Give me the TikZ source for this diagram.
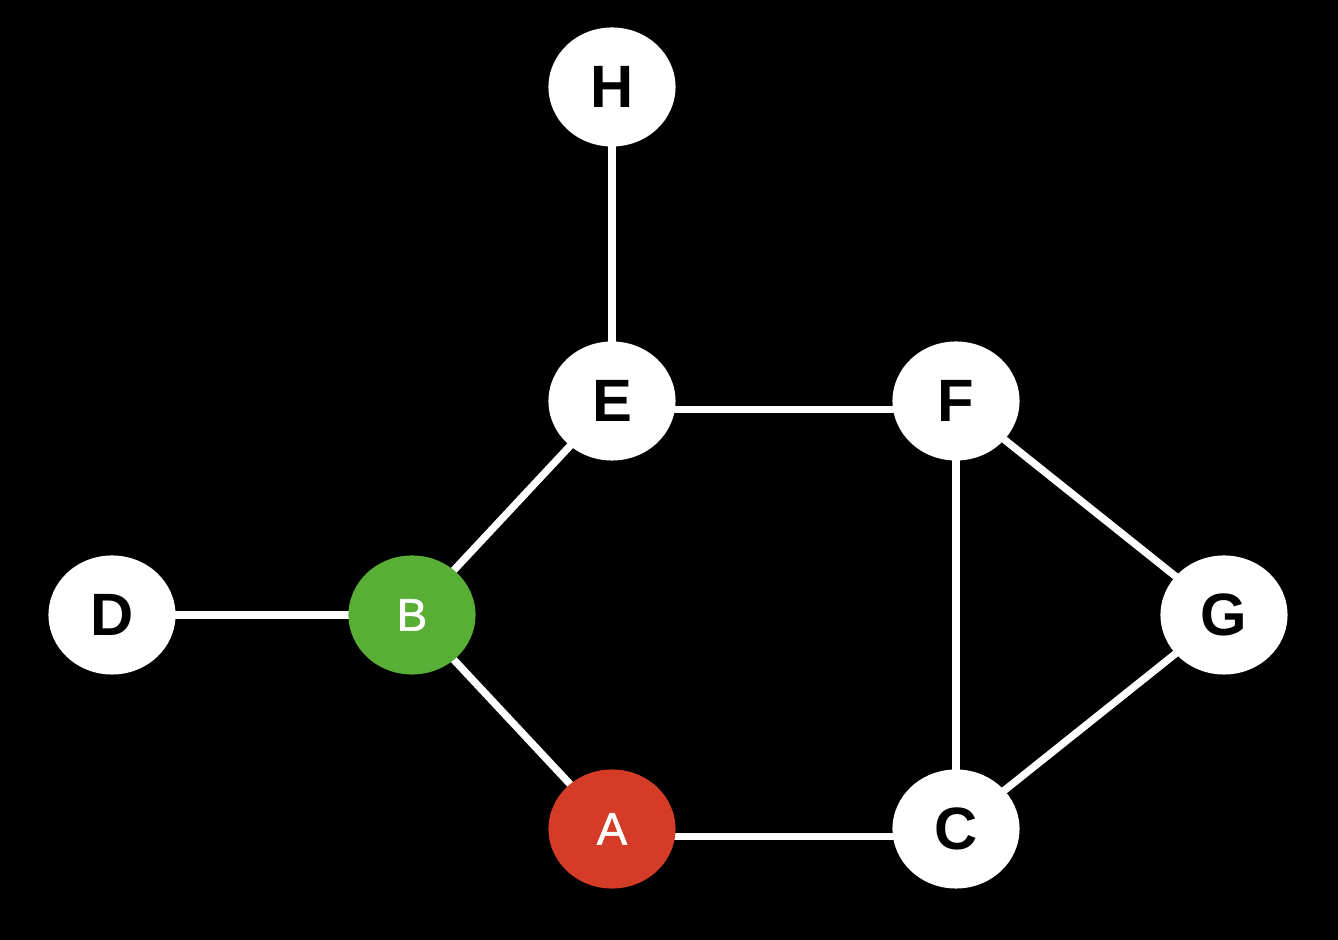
\documentclass[tikz,border=0pt]{standalone}
\usepackage{fontspec}
\setmainfont{Liberation Sans}
\newfontfamily\markfont[FakeBold=1.2]{Liberation Sans}
\usetikzlibrary{shapes.geometric,backgrounds}
\definecolor{nodegreen}{HTML}{59AF35}
\definecolor{nodered}{HTML}{D53C27}

\begin{document}
\begin{tikzpicture}[x=0.01cm,y=-0.01cm,
    vertex/.style={ellipse,fill=white,text=black,inner sep=0pt,
        minimum width=1.27cm,minimum height=1.19cm,
        font=\fontsize{17}{17}\selectfont\bfseries},
    marked/.style={vertex,text=white,font=\fontsize{13}{13}\selectfont\markfont},
    link/.style={white,line width=2.1pt}]
    % Canvas in pixel units (1338 x 940), black background
    \begin{scope}[on background layer]
        \fill[black] (0,0) rectangle (1338,940);
    \end{scope}
    \useasboundingbox (0,0) rectangle (1338,940);
    % Vertices
    \node[vertex] (H) at (612,87) {H};
    \node[vertex] (E) at (612,401) {E};
    \node[vertex] (F) at (956,401) {F};
    \node[vertex] (D) at (112,615) {D};
    \node[marked,fill=nodegreen] (B) at (412,615) {B};
    \node[vertex] (G) at (1224,615) {G};
    \node[marked,fill=nodered] (A) at (612,829) {A};
    \node[vertex] (C) at (956,829) {C};
    % Edges, behind the vertices
    \begin{scope}[on background layer]
        \draw[link] (H.center) -- (E.center);
        \draw[link] ([yshift=-2.5pt]E.center) -- ([yshift=-2.5pt]F.center);
        \draw[link] (E.center) -- (B.center);
        \draw[link] (D.center) -- (B.center);
        \draw[link] (B.center) -- (A.center);
        \draw[link] ([yshift=-2.2pt]A.center) -- ([yshift=-2.2pt]C.center);
        \draw[link] (F.center) -- (C.center);
        \draw[link] (F.center) -- (G.center);
        \draw[link] (G.center) -- (C.center);
    \end{scope}
\end{tikzpicture}
\end{document}
